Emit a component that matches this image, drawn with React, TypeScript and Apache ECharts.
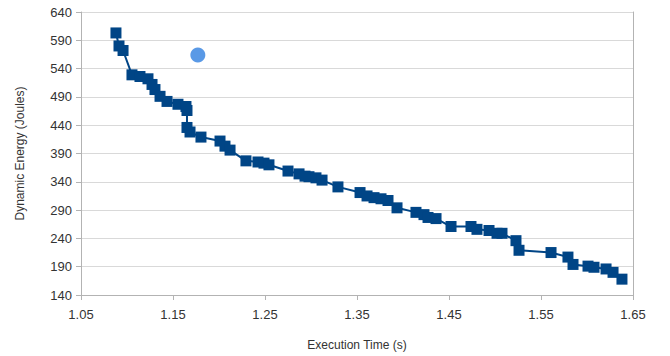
import React, { useEffect, useRef } from "react";
import * as echarts from "echarts";

const execTimes = [
  1.088, 1.0913, 1.0957, 1.1054, 1.1141, 1.1228, 1.1272, 1.1304, 1.1359, 1.1435,
  1.1554, 1.1641, 1.1652, 1.1652, 1.1685, 1.1804, 1.2011, 1.2065, 1.212, 1.2293,
  1.2424, 1.2489, 1.2543, 1.275, 1.287, 1.2935, 1.2978, 1.3054, 1.312, 1.3293,
  1.3533, 1.3609, 1.3685, 1.3761, 1.3837, 1.3935, 1.4141, 1.4228, 1.4272, 1.4359,
  1.4522, 1.4739, 1.4804, 1.4935, 1.5022, 1.5076, 1.5228, 1.5261, 1.5609, 1.5793,
  1.5848, 1.6011, 1.6076, 1.6207, 1.6283, 1.638,
];
const energies = [
  603, 580, 572, 529, 526, 522, 512, 503, 491, 482,
  477, 473, 466, 436, 428, 419, 412, 403, 396, 377,
  375, 373, 370, 359, 354, 350, 349, 347, 343, 331,
  321, 315, 312, 310, 307, 294, 286, 282, 277, 275,
  261, 261, 256, 254, 249, 249, 236, 219, 215, 207,
  194, 191, 189, 186, 180, 168,
];
const highlightPoint = [1.177, 564];

const xTicks = { min: 1.05, max: 1.65, interval: 0.1 };
const yTicks = { min: 140, max: 640, interval: 50 };

export default function App() {
  const ref = useRef<HTMLDivElement>(null);
  useEffect(() => {
    if (!ref.current) return;
    const chart = echarts.init(ref.current, null, { renderer: "svg" });
    const font = "'Liberation Sans', Arial, sans-serif";
    chart.setOption({
      animation: false,
      backgroundColor: "#ffffff",
      grid: { left: 81, right: 37, top: 12, bottom: 59 },
      xAxis: {
        type: "value",
        min: xTicks.min,
        max: xTicks.max,
        interval: xTicks.interval,
        name: "Execution Time (s)",
        nameLocation: "middle",
        nameGap: 44,
        nameTextStyle: { color: "#333333", fontSize: 12, fontFamily: font },
        axisLine: { show: true, lineStyle: { color: "#b3b3b3", width: 1 } },
        axisTick: { show: true, length: 5, lineStyle: { color: "#b3b3b3" } },
        axisLabel: {
          color: "#333333",
          fontSize: 13,
          fontFamily: font,
          margin: 13,
          formatter: (v: number) => v.toFixed(2),
        },
        splitLine: { show: false },
      },
      yAxis: [
        {
          type: "value",
          min: yTicks.min,
          max: yTicks.max,
          interval: yTicks.interval,
          name: "Dynamic Energy (Joules)",
          nameLocation: "middle",
          nameGap: 55,
          nameTextStyle: { color: "#333333", fontSize: 12, fontFamily: font },
          axisLine: { show: true, lineStyle: { color: "#b3b3b3", width: 1 } },
          axisTick: { show: true, length: 5, lineStyle: { color: "#b3b3b3" } },
          axisLabel: { color: "#333333", fontSize: 13, fontFamily: font, margin: 9 },
          splitLine: { show: true, lineStyle: { color: "#d9d9d9", width: 1 } },
        },
        {
          type: "value",
          position: "right",
          min: yTicks.min,
          max: yTicks.max,
          interval: yTicks.interval,
          axisLine: { show: true, lineStyle: { color: "#b3b3b3", width: 1 } },
          axisTick: { show: false },
          axisLabel: { show: false },
          splitLine: { show: false },
        },
      ],
      series: [
        {
          type: "line",
          yAxisIndex: 0,
          data: execTimes.map((t, i) => [t, energies[i]]),
          symbol: "rect",
          symbolSize: 11,
          itemStyle: { color: "#004586" },
          lineStyle: { color: "#004586", width: 2 },
        },
        {
          type: "scatter",
          yAxisIndex: 0,
          data: [highlightPoint],
          symbol: "circle",
          symbolSize: 15,
          itemStyle: { color: "#2f7fe0" },
        },
      ],
    });
    return () => chart.dispose();
  }, []);
  return <div ref={ref} style={{ width: 670, height: 356, position: "absolute", left: 0, top: 0 }} />;
}
